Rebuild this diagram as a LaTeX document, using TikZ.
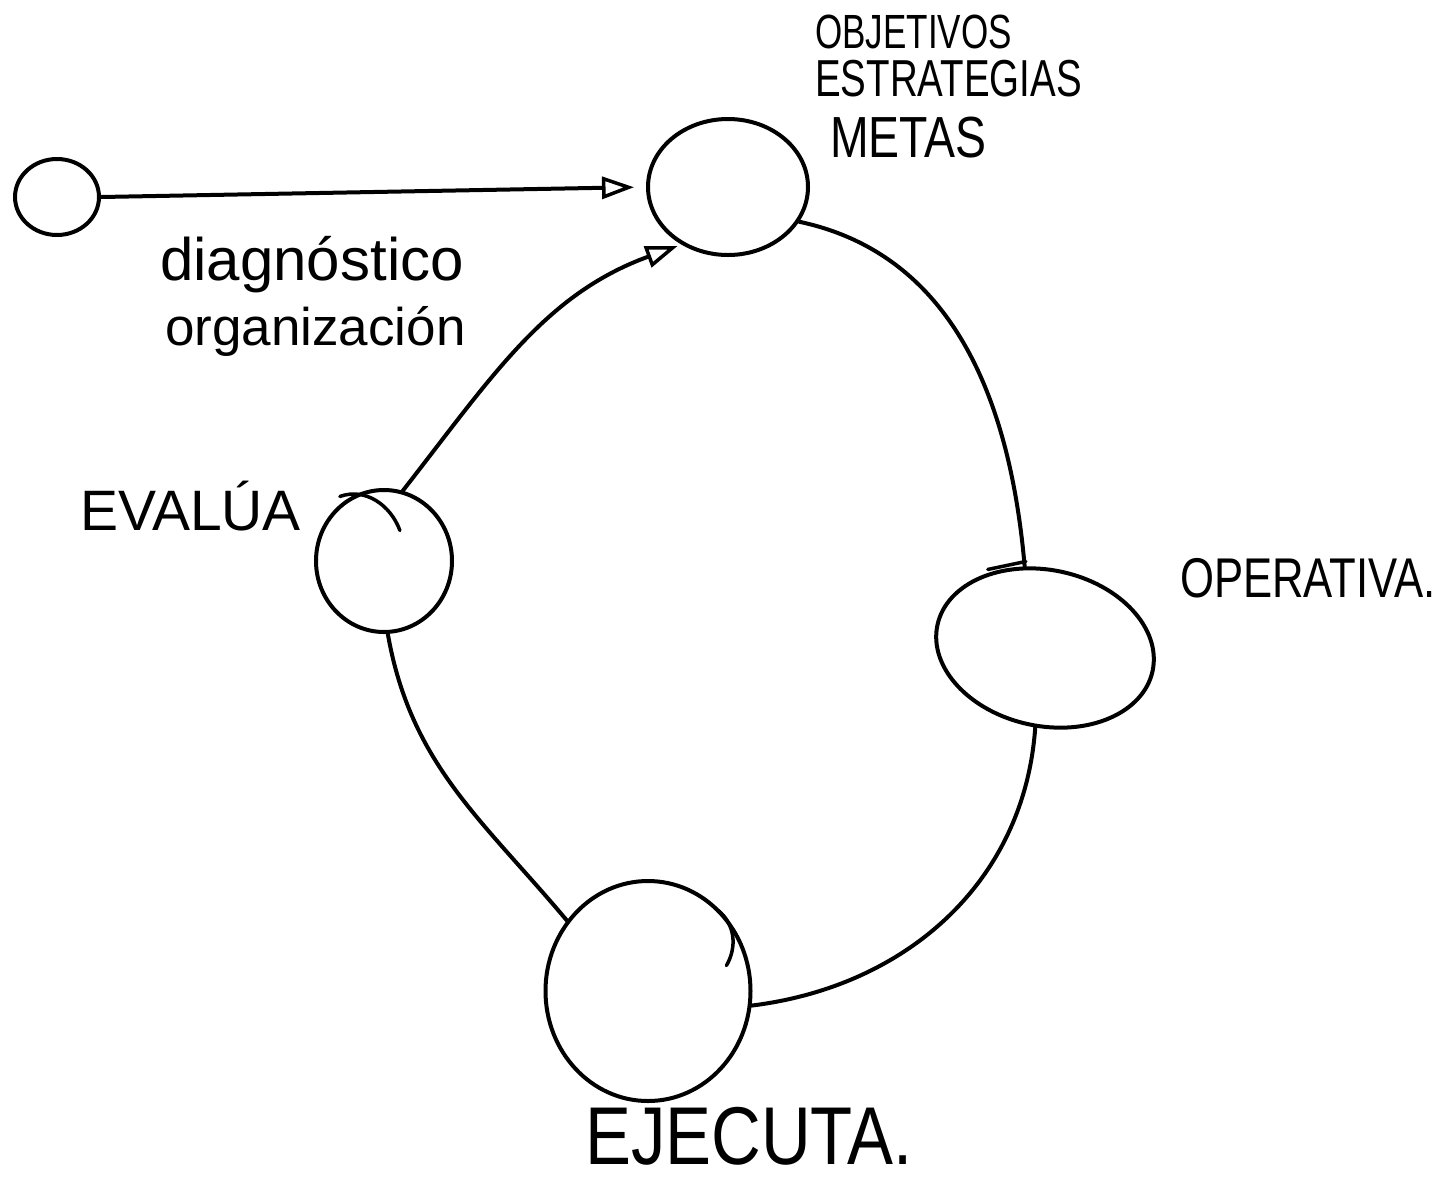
\documentclass[tikz,border=0pt]{standalone}
\usepackage{fontspec}
\setmainfont{Liberation Sans}
\usetikzlibrary{shapes.geometric,arrows.meta}
\begin{document}
\begin{tikzpicture}[x=1pt,y=1pt,
  blob/.style={ellipse,draw,line width=4pt,inner sep=0pt},
  link/.style={line width=4pt,line cap=round},
  stroke/.style={line width=3.5pt,line cap=round},
  arr/.style={link,-{Triangle[open,length=32pt,width=22pt,line width=3.5pt]}},
  lbl/.style={inner sep=0pt,anchor=base west}]
\fill[white] (0,0) rectangle (1443,-1179);
\useasboundingbox (0,0) rectangle (1443,-1179);

% nodes
\node[blob,minimum width=84pt,minimum height=76pt] (start) at (57,-197) {};
\node[blob,minimum width=160pt,minimum height=136pt] (goal) at (728,-187) {};
\node[blob,minimum width=136pt,minimum height=142pt] (eval) at (384,-561) {};
\node[blob,minimum width=220pt,minimum height=156pt,rotate=-12] (oper) at (1045,-648) {};
\node[blob,minimum width=205pt,minimum height=220pt] (exec) at (648,-991) {};

% connectors
\draw[arr,shorten >=12pt] (start.east) -- (goal.west);
\draw[arr,shorten >=4pt] (eval.75) to[out=52,in=200] (goal.231);
\draw[link] (goal.-26) to[out=-12,in=95] (oper.116);
\draw[link] (oper.-85) to[out=-94,in=7] (exec.-8);
\draw[link] (exec.139) to[out=130,in=-80] (eval.-87);

% hand-drawn overstrokes
\draw[stroke] (eval.120) ++(-8,2) to[out=20,in=110] ++(60,-34);
\draw[stroke] (exec.45) ++(-6,4) to[out=-40,in=60] ++(8,-55);
\draw[stroke] (oper.100) ++(-60,-2) -- ++(38,8);

% labels
\node[lbl,font=\fontsize{48}{48}\selectfont,xscale=0.73] (t1) at (815,-48) {OBJETIVOS};
\node[lbl,font=\fontsize{52}{52}\selectfont,xscale=0.74] (t2) at (815,-96) {ESTRATEGIAS};
\node[lbl,font=\fontsize{58}{58}\selectfont,xscale=0.8] (t3) at (830,-157) {METAS};
\node[lbl,font=\fontsize{60}{60}\selectfont] (t4) at (160,-280) {diagnóstico};
\node[lbl,font=\fontsize{53}{53}\selectfont] (t5) at (165,-345) {organización};
\node[lbl,font=\fontsize{57}{57}\selectfont] (t6) at (80,-530) {EVALÚA};
\node[lbl,font=\fontsize{56}{56}\selectfont,xscale=0.78] (t7) at (1180,-597) {OPERATIVA.};
\node[lbl,font=\fontsize{82}{82}\selectfont,xscale=0.84] (t8) at (585,-1164) {EJECUTA.};
\end{tikzpicture}
\end{document}
